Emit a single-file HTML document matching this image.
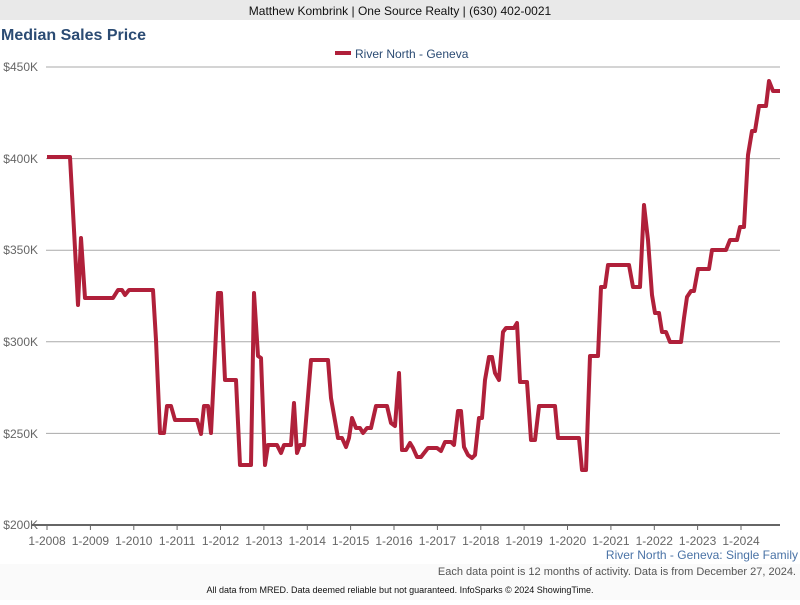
<!DOCTYPE html>
<html><head><meta charset="utf-8"><style>
body{margin:0;width:800px;height:600px;background:#fff;font-family:"Liberation Sans",sans-serif;overflow:hidden}
</style></head><body>
<svg width="800" height="600" xmlns="http://www.w3.org/2000/svg" font-family="Liberation Sans, sans-serif">
<rect x="0" y="0" width="800" height="20" fill="#e9e9e9"/>
<text x="400" y="15" font-size="12" text-anchor="middle" fill="#111">Matthew Kombrink | One Source Realty | (630) 402-0021</text>
<rect x="0" y="564" width="800" height="36" fill="#fafafa"/>
<text x="1" y="40" font-size="16" font-weight="bold" fill="#2b4b73">Median Sales Price</text>
<rect x="335" y="51" width="16" height="4" fill="#b0203a"/>
<text x="355" y="58" font-size="12" fill="#2b4b73">River North - Geneva</text>
<g stroke="#aaa" stroke-width="1">
<line x1="46" y1="67" x2="780" y2="67"/><line x1="46" y1="158.6" x2="780" y2="158.6"/><line x1="46" y1="250.2" x2="780" y2="250.2"/><line x1="46" y1="341.8" x2="780" y2="341.8"/><line x1="46" y1="433.4" x2="780" y2="433.4"/>
</g>
<line x1="31" y1="525" x2="780" y2="525" stroke="#666" stroke-width="2"/>
<g font-size="12" fill="#666" text-anchor="end">
<text x="38" y="71">$450K</text><text x="38" y="163">$400K</text><text x="38" y="254">$350K</text><text x="38" y="346">$300K</text><text x="38" y="438">$250K</text><text x="38" y="529">$200K</text>
</g>
<g stroke="#666" stroke-width="1">
<line x1="47" y1="525" x2="47" y2="530"/><line x1="90.4" y1="525" x2="90.4" y2="530"/><line x1="133.8" y1="525" x2="133.8" y2="530"/><line x1="177.1" y1="525" x2="177.1" y2="530"/><line x1="220.5" y1="525" x2="220.5" y2="530"/><line x1="263.9" y1="525" x2="263.9" y2="530"/><line x1="307.3" y1="525" x2="307.3" y2="530"/><line x1="350.6" y1="525" x2="350.6" y2="530"/><line x1="394" y1="525" x2="394" y2="530"/><line x1="437.4" y1="525" x2="437.4" y2="530"/><line x1="480.8" y1="525" x2="480.8" y2="530"/><line x1="524.1" y1="525" x2="524.1" y2="530"/><line x1="567.5" y1="525" x2="567.5" y2="530"/><line x1="610.9" y1="525" x2="610.9" y2="530"/><line x1="654.3" y1="525" x2="654.3" y2="530"/><line x1="697.6" y1="525" x2="697.6" y2="530"/><line x1="741" y1="525" x2="741" y2="530"/>
</g>
<g font-size="12" fill="#666" text-anchor="middle">
<text x="47" y="545">1-2008</text><text x="90.4" y="545">1-2009</text><text x="133.8" y="545">1-2010</text><text x="177.1" y="545">1-2011</text><text x="220.5" y="545">1-2012</text><text x="263.9" y="545">1-2013</text><text x="307.3" y="545">1-2014</text><text x="350.6" y="545">1-2015</text><text x="394" y="545">1-2016</text><text x="437.4" y="545">1-2017</text><text x="480.8" y="545">1-2018</text><text x="524.1" y="545">1-2019</text><text x="567.5" y="545">1-2020</text><text x="610.9" y="545">1-2021</text><text x="654.3" y="545">1-2022</text><text x="697.6" y="545">1-2023</text><text x="741" y="545">1-2024</text>
</g>
<text x="798" y="559" font-size="12" fill="#4a73a6" text-anchor="end">River North - Geneva: Single Family</text>
<text x="796" y="575" font-size="11" fill="#555" text-anchor="end">Each data point is 12 months of activity. Data is from December 27, 2024.</text>
<text x="400" y="593" font-size="9" fill="#111" text-anchor="middle">All data from MRED. Data deemed reliable but not guaranteed. InfoSparks © 2024 ShowingTime.</text>
<polyline fill="none" stroke="#b0203a" stroke-width="4" stroke-linejoin="round" points="47,157 70,157 74,230 78,305 81,238 85,298 113,298 118,290 122,290 125,295 129,290 153,290 156,340 160,433 164,433 167,406 171,406 175,420 197,420 201,434 204,406 208,406 211,433 218,293 221,293 225,380 236,380 240,465 251,465 254,293 258,356 261,358 265,465 268,445 277,445 281,453 284,445 291,445 294,403 297,453 300,445 304,445 311,360 328,360 331,398 338,438 342,438 346,447 349,438 352,418 356,428 360,428 363,433 367,428 371,428 376,406 387,406 391,423 395,426 399,373 402,450 406,450 410,443 413,448 417,457 421,457 428,448 437,448 441,451 445,442 451,442 454,445 458,411 461,411 464,447 468,455 472,458 475,455 479,418 482,418 485,380 489,357 492,357 495,373 499,380 503,332 506,328 514,328 517,323 520,382 527,382 531,440 535,440 539,406 555,406 558,438 579,438 582,470 586,470 590,356 598,356 601,287 605,287 608,265 629,265 633,287 640,287 644,205 648,240 652,295 655,313 659,313 662,332 666,332 670,342 681,342 684,318 687,297 691,291 694,291 698,269 709,269 712,250 726,250 730,240 737,240 740,227 744,227 748,155 752,131 755,131 759,106 766,106 769,81 773,91 780,91"/>
</svg>
</body></html>
